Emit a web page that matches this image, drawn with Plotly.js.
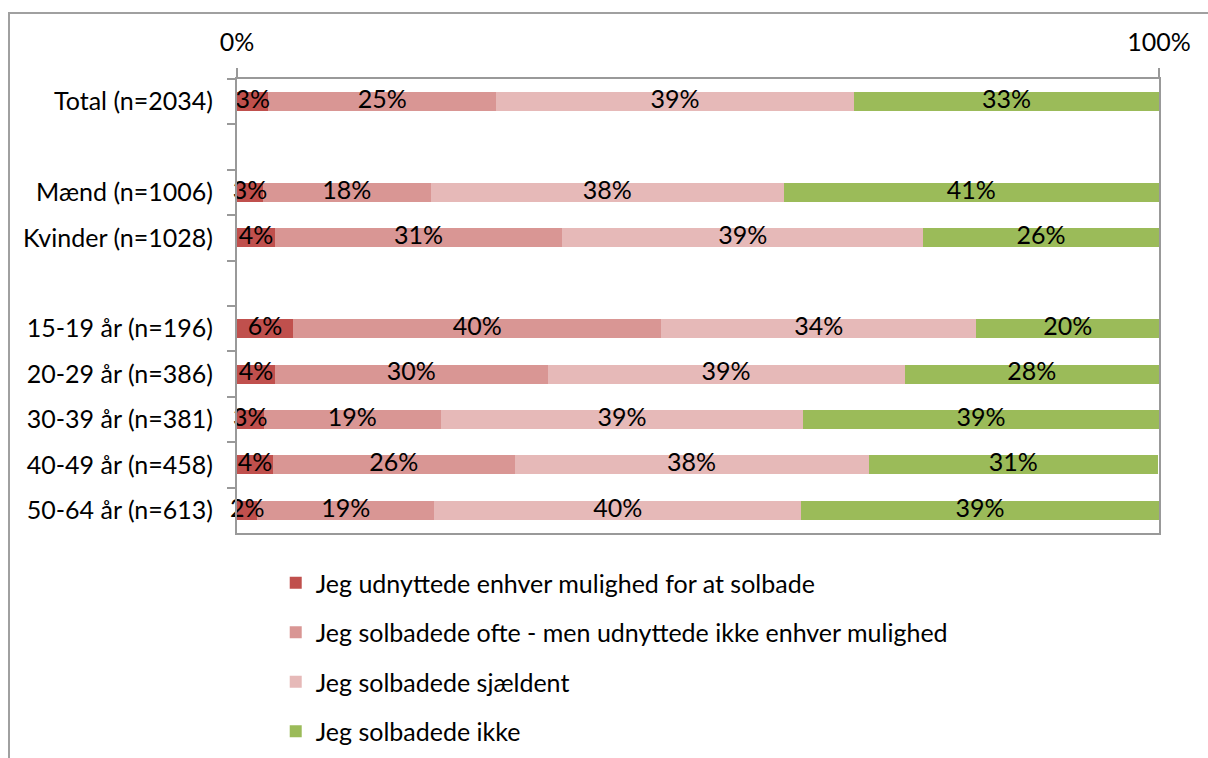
<!DOCTYPE html>
<html>
<head>
<meta charset="utf-8">
<script src="https://cdn.plot.ly/plotly-3.0.1.min.js"></script>
<style>
  html, body { margin: 0; padding: 0; background: #fff; }
  #chart { width: 1208px; height: 758px; }
</style>
</head>
<body>
<div id="chart"></div>
<script>
// Categories (blank entries are spacer rows)
const categories = [
  "Total (n=2034)", " ", "Mænd (n=1006)", "Kvinder (n=1028)", "  ",
  "15-19 år (n=196)", "20-29 år (n=386)", "30-39 år (n=381)", "40-49 år (n=458)", "50-64 år (n=613)"
];

// Series values (percent)
const udnyttedeAlt = [3.4, null, 2.8, 4.1, null, 6.1, 4.1, 2.9, 3.9, 2.2];
const ofte         = [24.7, null, 18.2, 31.2, null, 39.9, 29.6, 19.2, 26.2, 19.2];
const sjaeldent    = [38.8, null, 38.3, 39.1, null, 34.2, 38.7, 39.3, 38.4, 39.8];
const ikke         = [33.1, null, 40.7, 25.6, null, 19.8, 27.6, 38.6, 31.4, 38.8];

const seriesNames = [
  "Jeg udnyttede enhver mulighed for at solbade",
  "Jeg solbadede ofte - men udnyttede ikke enhver mulighed",
  "Jeg solbadede sjældent",
  "Jeg solbadede ikke"
];
const seriesValues = [udnyttedeAlt, ofte, sjaeldent, ikke];
const seriesColors = ["#C0504D", "#D99694", "#E6B9B8", "#9BBB59"];

// x tick labels
const xTickVals = [0, 100];
const xTickText = ["0%", "100%"];

const FONT = "Lato, 'Open Sans', sans-serif";
const FS = 25;

// stacked bars
const barTraces = seriesValues.map((vals, i) => ({
  type: "bar",
  orientation: "h",
  name: seriesNames[i],
  legendgroup: "g" + i,
  x: vals,
  y: categories,
  marker: { color: seriesColors[i], line: { width: 0 } },
  hoverinfo: "skip"
}));

// data labels, drawn on top of all bars (centre of each stacked segment)
const labelTraces = seriesValues.map((vals, i) => {
  const xs = [], ys = [], ts = [];
  categories.forEach((c, k) => {
    if (vals[k] == null) return;
    let start = 0;
    for (let j = 0; j < i; j++) start += seriesValues[j][k] || 0;
    xs.push(start + vals[k] / 2);
    ys.push(c);
    ts.push(Math.round(vals[k]) + "%");
  });
  return {
    type: "scatter",
    mode: "text",
    x: xs, y: ys, text: ts,
    textposition: "middle center",
    textfont: { family: FONT, size: FS, color: "#000" },
    cliponaxis: false,
    showlegend: false,
    hoverinfo: "skip"
  };
});

// plot area: x 237..1159, y 79..533 (of 758)
const M = { l: 237, r: 49, t: 79, b: 225 };
const plotW = 1208 - M.l - M.r;
const plotH = 758 - M.t - M.b;

const layout = {
  width: 1208,
  height: 758,
  paper_bgcolor: "#fff",
  plot_bgcolor: "#fff",
  barmode: "stack",
  bargap: 0.58,
  margin: { l: M.l, r: M.r, t: M.t, b: M.b, pad: 0 },
  font: { family: FONT, size: FS, color: "#000" },
  showlegend: true,
  legend: {
    xref: "paper", yref: "container",
    x: 0.042, xanchor: "left",
    y: 1 - 560 / 758, yanchor: "top",
    traceorder: "grouped",
    tracegroupgap: 14,
    font: { family: FONT, size: FS, color: "#000" },
    bgcolor: "rgba(0,0,0,0)",
    itemclick: false
  },
  xaxis: {
    side: "top",
    range: [0, 100],
    tickmode: "array",
    tickvals: xTickVals,
    ticktext: xTickText,
    ticks: "outside",
    ticklen: 9,
    tickwidth: 2,
    tickcolor: "#999",
    ticklabelstandoff: 7,
    showline: true,
    linecolor: "#999",
    linewidth: 2,
    mirror: true,
    showgrid: false,
    zeroline: false,
    fixedrange: true,
    tickfont: { family: FONT, size: FS, color: "#000" }
  },
  yaxis: {
    type: "category",
    categoryorder: "array",
    categoryarray: categories,
    autorange: "reversed",
    ticks: "outside",
    tickson: "boundaries",
    ticklen: 8,
    tickwidth: 2,
    tickcolor: "#999",
    ticklabelstandoff: 17,
    showline: true,
    linecolor: "#999",
    linewidth: 2,
    mirror: true,
    showgrid: false,
    zeroline: false,
    fixedrange: true,
    tickfont: { family: FONT, size: FS, color: "#000" }
  },
  shapes: [{
    type: "rect",
    xref: "paper", yref: "paper",
    x0: (9 - M.l) / plotW, x1: 1.2,
    y0: -1, y1: (758 - M.b - 13) / plotH,
    line: { color: "#A0A0A0", width: 2 },
    fillcolor: "rgba(0,0,0,0)",
    layer: "below"
  }]
};

Plotly.newPlot("chart", barTraces.concat(labelTraces), layout, { displayModeBar: false, staticPlot: true });
</script>
</body>
</html>
